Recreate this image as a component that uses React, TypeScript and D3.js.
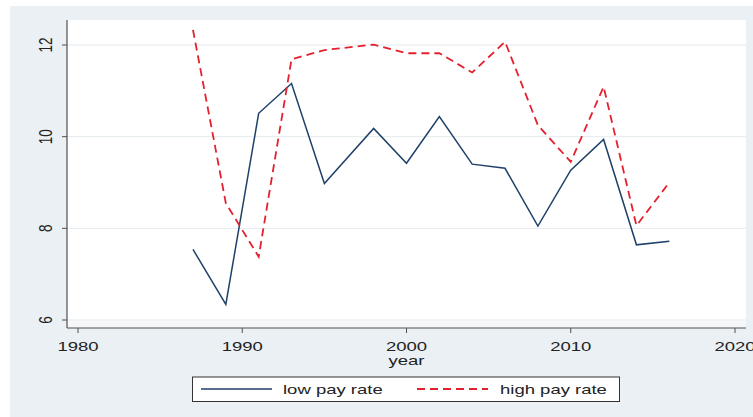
import React from "react";
import * as d3 from "d3";

// Survey years and rates for the two pay groups
const years = [1987, 1989, 1991, 1993, 1995, 1998, 2000, 2002, 2004, 2006, 2008, 2010, 2012, 2014, 2016];
const lowPay = [7.54, 6.34, 10.51, 11.16, 8.98, 10.18, 9.42, 10.44, 9.4, 9.31, 8.05, 9.27, 9.94, 7.64, 7.72];
const highPay = [12.33, 8.55, 7.38, 11.69, 11.89, 12.01, 11.82, 11.82, 11.4, 12.07, 10.25, 9.45, 11.09, 8.06, 9.0];
const xTicks = [1980, 1990, 2000, 2010, 2020];
const yTicks = [6, 8, 10, 12];
const seriesNames = ["low pay rate", "high pay rate"];

const W = 753;
const H = 417;
const NAVY = "#1f4068";
const RED = "#e5202e";
const BG = "#eaf0f3";
const GRID = "#e4eaee";
const AXIS = "#505050";
const FONT = "'Liberation Sans', Arial, Helvetica, sans-serif";
const FS = 13.5;
const SX = 1.37; // horizontal stretch of the exported graph

export default function App() {
  const x = d3.scaleLinear().domain([1980, 2020]).range([78, 735]);
  const y = d3.scaleLinear().domain([6, 12]).range([320, 45]);

  const line = d3
    .line<[number, number]>()
    .x((d) => x(d[0]))
    .y((d) => y(d[1]));

  const lowPts = years.map((yr, i) => [yr, lowPay[i]] as [number, number]);
  const highPts = years.map((yr, i) => [yr, highPay[i]] as [number, number]);

  const plotL = 67;
  const plotR = 746;
  const plotT = 20;
  const plotB = 321;
  const axisY = 328;

  return (
    <svg
      width={W}
      height={H}
      style={{ position: "absolute", left: 0, top: 0, display: "block" }}
      fontFamily={FONT}
    >
      <rect x={0} y={0} width={W} height={H} fill="#ffffff" />
      <rect x={10} y={6} width={W - 10} height={H - 6} fill={BG} />
      {/* plot region */}
      <rect x={plotL} y={plotT} width={plotR - plotL} height={plotB - plotT} fill="#ffffff" />
      <rect x={plotL} y={plotB} width={plotR - plotL} height={axisY - plotB} fill="#f5f7f8" />

      {/* grid */}
      {yTicks.map((t) => (
        <line key={"g" + t} x1={plotL} x2={plotR} y1={y(t)} y2={y(t)} stroke={GRID} strokeWidth={1} />
      ))}

      {/* y axis */}
      <line x1={plotL} x2={plotL} y1={plotT} y2={axisY} stroke={AXIS} strokeWidth={1.2} />
      {yTicks.map((t) => (
        <g key={"y" + t}>
          <line x1={plotL - 5} x2={plotL} y1={y(t)} y2={y(t)} stroke={AXIS} strokeWidth={1} />
          <text
            transform={`translate(52,${y(t)}) scale(${SX},1) rotate(-90)`}
            textAnchor="middle"
            fontSize={FS}
            fill="#222"
          >
            {t}
          </text>
        </g>
      ))}

      {/* x axis */}
      <line x1={plotL} x2={plotR} y1={axisY} y2={axisY} stroke={AXIS} strokeWidth={1.2} />
      {xTicks.map((t) => (
        <g key={"x" + t}>
          <line x1={x(t)} x2={x(t)} y1={axisY} y2={axisY + 5} stroke={AXIS} strokeWidth={1} />
          <text
            transform={`translate(${x(t)},351) scale(${SX},1)`}
            textAnchor="middle"
            fontSize={FS}
            fill="#222"
          >
            {t}
          </text>
        </g>
      ))}
      <text
        transform={`translate(${x(2000)},365) scale(${SX},1)`}
        textAnchor="middle"
        fontSize={FS}
        fill="#222"
      >
        year
      </text>

      {/* series */}
      <path d={line(lowPts) || ""} fill="none" stroke={NAVY} strokeWidth={1.5} strokeLinejoin="miter" />
      <path
        d={line(highPts) || ""}
        fill="none"
        stroke={RED}
        strokeWidth={1.8}
        strokeDasharray="8,5"
      />

      {/* legend */}
      <rect x={192.5} y={377} width={427} height={24.5} fill="#ffffff" stroke="#333" strokeWidth={1} />
      <line x1={201} x2={272} y1={389} y2={389} stroke={NAVY} strokeWidth={1.5} />
      <text transform={`translate(283,394) scale(${SX},1)`} fontSize={FS} fill="#222">
        {seriesNames[0]}
      </text>
      <line x1={417} x2={488} y1={389} y2={389} stroke={RED} strokeWidth={1.8} strokeDasharray="8,5" />
      <text transform={`translate(500,394) scale(${SX},1)`} fontSize={FS} fill="#222">
        {seriesNames[1]}
      </text>
    </svg>
  );
}
